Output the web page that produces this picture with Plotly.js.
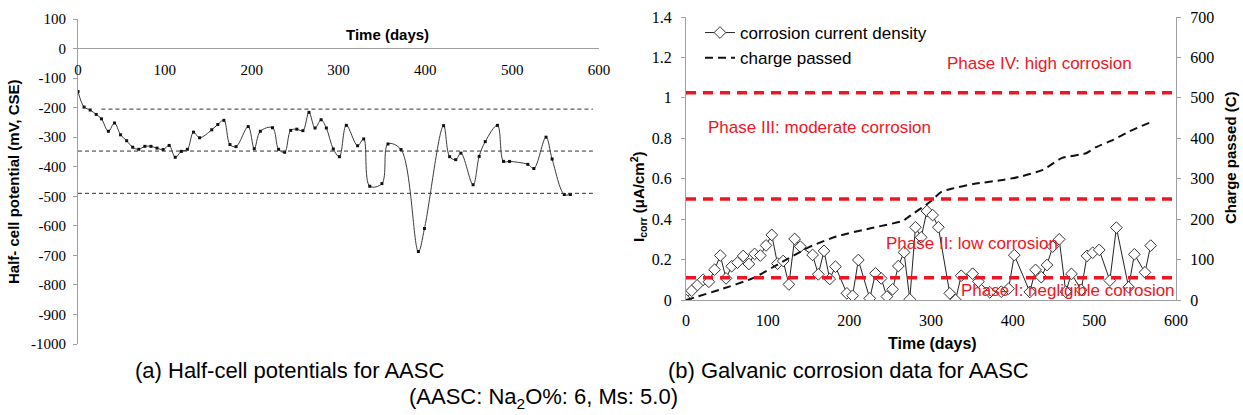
<!DOCTYPE html>
<html><head><meta charset="utf-8">
<script src="https://cdn.plot.ly/plotly-3.0.1.min.js"></script>
<style>html,body{margin:0;padding:0;background:#fff}#chart{width:1243px;height:415px}</style>
</head><body><div id="chart"></div>
<script>
// ---- data: (a) half-cell potentials ----
const hcDays = [0,7,14,21,27,35,42,49,56,63,70,77,84,91,98,105,112,119,126,133,140,154,161,168,175,182,196,203,210,224,231,238,245,252,259,266,273,280,286,294,301,309,322,329,336,350,357,372,392,399,421,428,435,441,455,462,469,483,490,497,518,525,539,546,560,567];
const hcPotential = [-145,-198,-208,-223,-238,-280,-252,-292,-312,-334,-341,-331,-331,-337,-342,-328,-368,-348,-341,-283,-302,-275,-257,-243,-325,-332,-264,-339,-280,-268,-341,-351,-277,-273,-278,-216,-269,-241,-269,-340,-366,-260,-329,-306,-466,-457,-323,-342,-687,-609,-261,-366,-376,-354,-461,-365,-315,-260,-382,-382,-392,-406,-300,-374,-494,-494];
const hcThresholds = [-205,-347,-490];
const hcThresholdStart = [27,0,0];
const hcThresholdEnd = 593;
const hcTickVals = [100,0,-100,-200,-300,-400,-500,-600,-700,-800,-900,-1000];
const hcTickText = ['100','0','-100','-200','-300','-400','-500','-600','-700','-800','-900','-1000'];

// ---- data: (b) galvanic corrosion ----
const icDays = [0,7,14,21,28,35,42,49,56,63,70,77,84,91,98,105,112,119,126,133,140,155,162,169,176,183,197,204,211,225,232,239,246,253,260,267,274,281,288,295,302,309,323,330,337,351,358,372,386,395,402,421,428,435,442,449,457,465,472,484,491,498,506,519,527,542,549,562,569];
const icValues = [0,0.046,0.074,0.10,0.09,0.15,0.22,0.107,0.167,0.185,0.218,0.178,0.228,0.22,0.27,0.322,0.18,0.193,0.077,0.302,0.264,0.223,0.127,0.243,0.104,0.165,0.033,0.021,0.198,0.008,0.132,0.107,0.017,0.053,0.168,0.236,0.003,0.36,0.31,0.44,0.42,0.36,0.033,0.0,0.12,0.13,0.091,0.038,0.041,0.056,0.222,0.04,0.149,0.113,0.173,0.264,0.30,0.041,0.129,0.05,0.218,0.234,0.248,0.096,0.358,0.063,0.226,0.137,0.269];
const qDays = [0,42,82,115,152,184,225,266,270,299,313,325,352,388,409,437,460,490,502,523,543,568];
const qValues = [0,26,54,91,132,157,177,196,202,243,268,275,287,297,305,322,351,363,378,396,417,439];
const phaseLimits = [0.11,0.5,1.025];
const phaseLabels = ['Phase I: negligible corrosion','Phase II: low corrosion','Phase III: moderate corrosion','Phase IV: high corrosion'];

const W = 1243, H = 415;
const px = v => v / W;
const py = v => 1 - v / H;

const SANS = 'Liberation Sans';
const SERIF = 'Liberation Serif';
const AXC = '#a0a0a0';
const RED = 'rgb(236,22,36)';

const traces = [
  {x: hcDays, y: hcPotential, xaxis: 'x', yaxis: 'y', type: 'scatter', mode: 'lines+markers',
   line: {shape: 'spline', smoothing: 1, color: '#3a3a3a', width: 1},
   marker: {symbol: 'square', size: 3, color: '#111'}, showlegend: false, hoverinfo: 'skip'},
  {x: icDays, y: icValues, xaxis: 'x2', yaxis: 'y2', type: 'scatter', mode: 'lines+markers',
   name: 'corrosion current density',
   line: {color: '#222', width: 1},
   marker: {symbol: 'diamond', size: 9, color: '#fff', line: {color: '#333', width: 1}}},
  {x: qDays, y: qValues, xaxis: 'x2', yaxis: 'y3', type: 'scatter', mode: 'lines',
   name: 'charge passed',
   line: {color: '#111', width: 2, dash: '8px,5px', shape: 'spline', smoothing: 0.6}}
];

const shapes = [];
hcThresholds.forEach((v, i) => shapes.push({type: 'line', xref: 'x', yref: 'y', x0: hcThresholdStart[i], x1: hcThresholdEnd, y0: v, y1: v,
  line: {color: '#333', width: 1, dash: '4px,3px'}}));
phaseLimits.forEach(v => shapes.push({type: 'line', xref: 'x2', yref: 'y2', x0: 0, x1: 600, y0: v, y1: v,
  line: {color: RED, width: 3.5, dash: '10px,7px'}}));

const ann = (text, x, y, opt) => Object.assign({text, x: px(x), y: py(y), xref: 'paper', yref: 'paper', showarrow: false,
  xanchor: 'center', yanchor: 'middle', font: {family: SANS, size: 15, color: '#000'}}, opt || {});
const redFont = {family: SANS, size: 17, color: RED};

const annotations = [
  ann('<b>Time (days)</b>', 387, 35),
  ann('<b>Half- cell potential (mV, CSE)</b>', 13, 182, {textangle: -90}),
  ann('<b>Time (days)</b>', 933, 343, {font: {family: SANS, size: 16, color: '#000'}}),
  ann('<b>I<sub>corr</sub> (μA/cm<sup>2</sup>)</b>', 638, 197, {textangle: -90}),
  ann('<b>Charge passed (C)</b>', 1230, 158, {textangle: -90}),
  ann(phaseLabels[3], 945, 64, {xanchor: 'left', font: redFont}),
  ann(phaseLabels[2], 706, 128, {xanchor: 'left', font: redFont}),
  ann(phaseLabels[1], 1060, 243, {xanchor: 'right', font: redFont}),
  ann(phaseLabels[0], 1177, 290, {xanchor: 'right', font: redFont}),
  ann('(a) Half-cell potentials for AASC', 133, 370, {xanchor: 'left', font: {family: SANS, size: 22, color: '#000'}}),
  ann('(b) Galvanic corrosion data for AASC', 849, 370, {font: {family: SANS, size: 22, color: '#000'}}),
  ann('(AASC: Na<sub>2</sub>O%: 6, Ms: 5.0)', 407, 398, {xanchor: 'left', font: {family: SANS, size: 22, color: '#000'}})
];

const tf = size => ({family: SERIF, size: size, color: '#000'});
const layout = {
  width: W, height: H, margin: {l: 0, r: 0, t: 0, b: 0},
  paper_bgcolor: '#fff', plot_bgcolor: 'rgba(0,0,0,0)',
  font: {family: SERIF, color: '#000'},
  showlegend: true,
  legend: {x: px(700), y: py(15), xanchor: 'left', yanchor: 'top', bgcolor: 'rgba(0,0,0,0)',
    font: {family: SANS, size: 17, color: '#000'}, tracegroupgap: 0},
  xaxis: {domain: [px(78), px(599)], range: [0, 600], anchor: 'free', position: py(48), tick0: 0, dtick: 100,
    showline: true, linecolor: AXC, linewidth: 1, ticks: '', showgrid: false, zeroline: false,
    tickfont: tf(15), ticklabelstandoff: 8},
  yaxis: {domain: [py(344), py(19)], range: [-1000, 100], tickmode: 'array', tickvals: hcTickVals, ticktext: hcTickText, anchor: 'x',
    showline: true, linecolor: AXC, linewidth: 1, ticks: 'outside', ticklen: 4, tickcolor: AXC,
    showgrid: false, zeroline: false, tickfont: tf(15), ticklabelstandoff: 4},
  xaxis2: {domain: [px(686), px(1176)], range: [0, 600], anchor: 'y2', tick0: 0, dtick: 100,
    showline: true, linecolor: AXC, linewidth: 1, ticks: '', showgrid: false, zeroline: false,
    tickfont: tf(16), ticklabelstandoff: 6},
  yaxis2: {domain: [py(300), py(17)], range: [0, 1.4], tick0: 0, dtick: 0.2, anchor: 'x2',
    showline: true, linecolor: AXC, linewidth: 1, ticks: 'outside', ticklen: 4, tickcolor: AXC,
    showgrid: false, zeroline: false, tickfont: tf(16), ticklabelstandoff: 6},
  yaxis3: {overlaying: 'y2', side: 'right', anchor: 'x2', range: [0, 700], tick0: 0, dtick: 100,
    showline: true, linecolor: AXC, linewidth: 1, ticks: 'outside', ticklen: 4, tickcolor: AXC,
    showgrid: false, zeroline: false, tickfont: tf(16), ticklabelstandoff: 6},
  shapes, annotations
};

Plotly.newPlot('chart', traces, layout, {staticPlot: true, displayModeBar: false});
</script></body></html>
